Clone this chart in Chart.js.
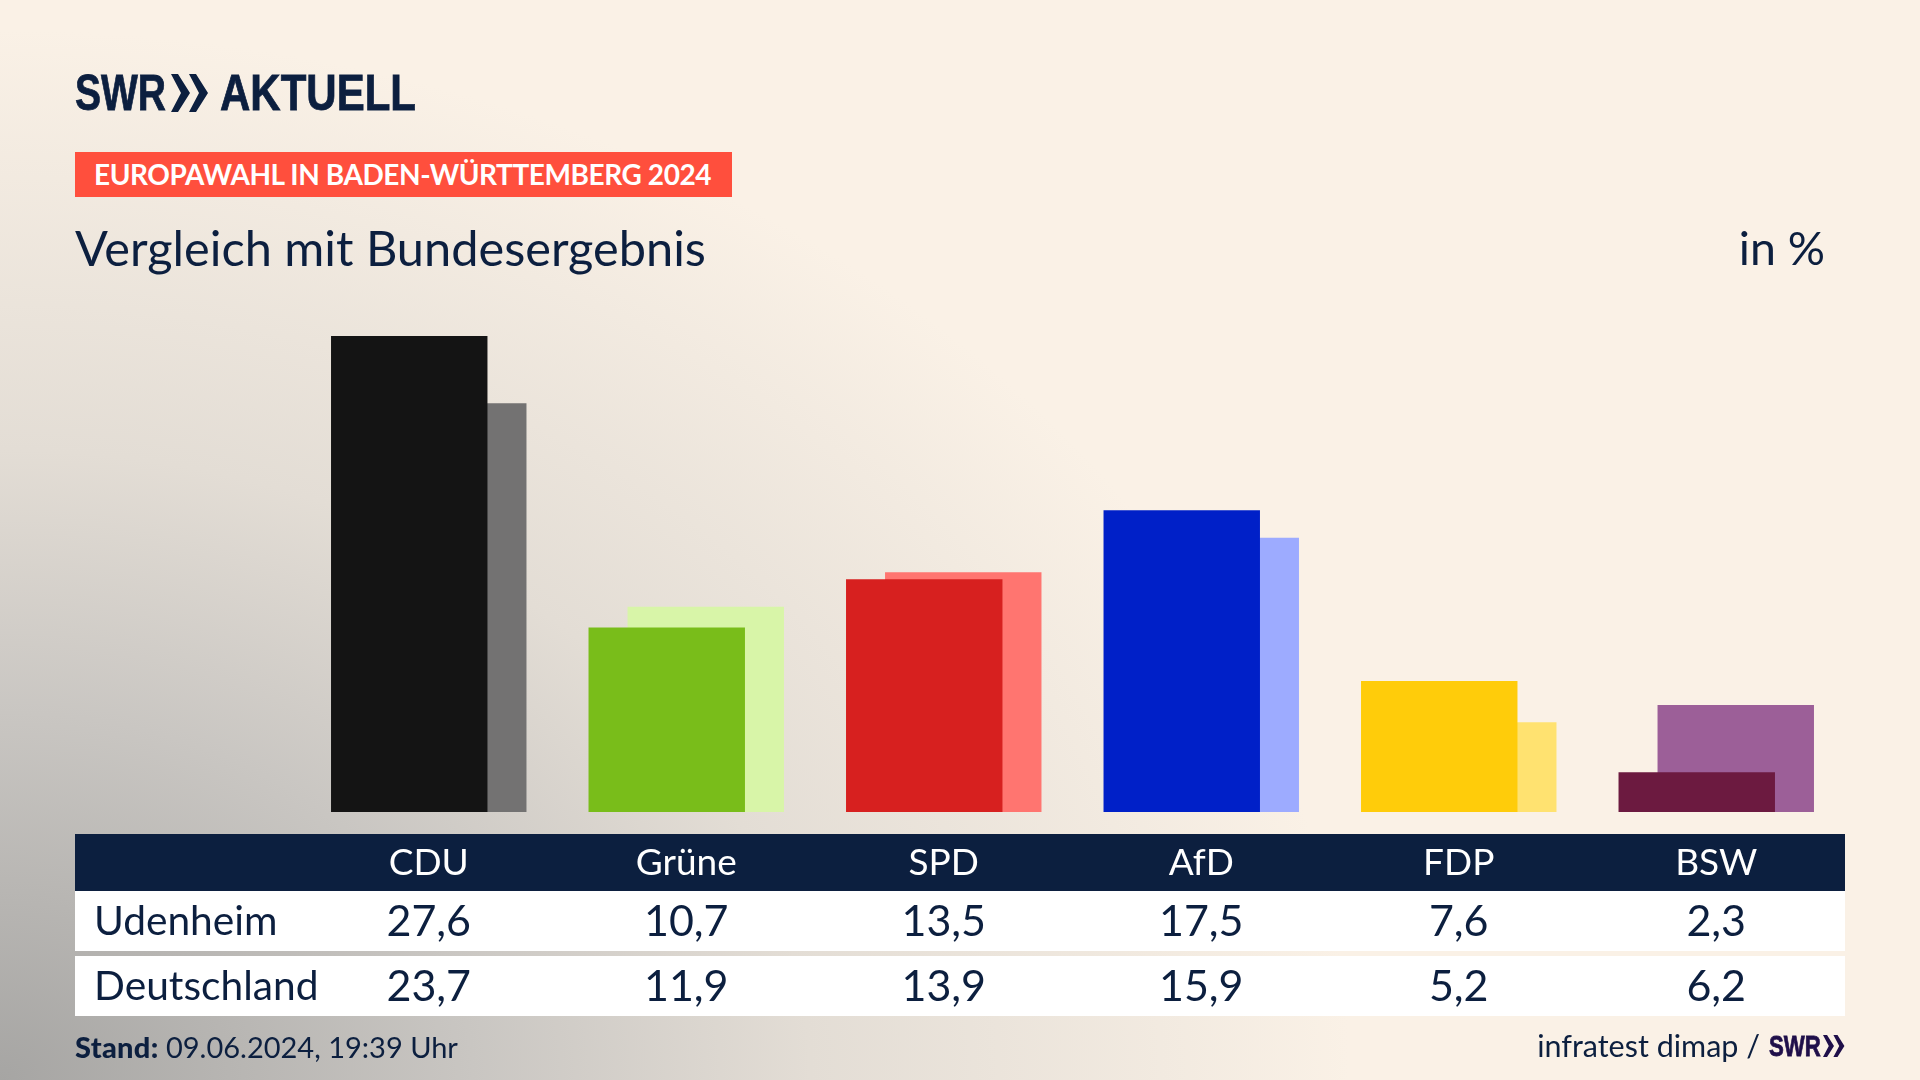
<!DOCTYPE html>
<html lang="de">
<head>
<meta charset="utf-8">
<title>Vergleich mit Bundesergebnis</title>
<script src="https://cdn.jsdelivr.net/npm/chart.js@4"></script>
<style>
  html, body { margin: 0; width: 1920px; height: 1080px; overflow: hidden; }
  body {
    position: relative;
    color: #0c1f3f;
    font-family: Lato, sans-serif;
    background: radial-gradient(ellipse 1350px 1050px at 0 100%, #a6a5a3 0%, #c9c6c2 35%, #e3ddd5 60%, #faf1e6 100%), #faf1e6;
  }
  canvas { position: absolute; left: 0; top: 0; }
  .abs { position: absolute; white-space: nowrap; }
  .narrow { display: inline-block; transform-origin: left center; -webkit-text-stroke: .8px currentColor; }
  .logo { left: 75px; top: 66px; font: 700 50px/54px "Liberation Sans", sans-serif; }
  .logo .swr { position: absolute; left: 0; top: 0; transform: scaleX(.78); }
  .logo .word { position: absolute; left: 145px; top: 0; transform: scaleX(.84); }
  .logo svg { position: absolute; left: 96px; top: 8px; }
  .badge { left: 75px; top: 152px; width: 657px; height: 45px; background: #ff4f3d; color: #fff; font: 700 28px/45px Lato, sans-serif; letter-spacing: -.42px; padding-left: 19px; box-sizing: border-box; }
  .title { left: 75px; top: 217px; font-size: 48.7px; line-height: 60px; }
  .unit { right: 95px; top: 217px; font-size: 46.5px; line-height: 60px; }
  table { position: absolute; left: 75px; top: 834px; width: 1770px; border-collapse: separate; border-spacing: 0; table-layout: fixed; }
  th, td { padding: 0; text-align: center; font-weight: 400; }
  th.label, td.label { width: 225px; }
  td.label { text-align: left; padding-left: 19px; box-sizing: border-box; font-size: 40.7px; }
  thead th { background: #0c1f3f; color: #fff; height: 57px; font-size: 37px; line-height: 54px; vertical-align: top; }
  tbody td { background: #fff; height: 60px; font-size: 43px; line-height: 58px; vertical-align: top; }
  tbody tr.spacer td { background: transparent; height: 5px; line-height: 5px; font-size: 1px; }
  .stand { left: 75px; top: 1029px; font-size: 29px; line-height: 36px; }
  .stand b { font-weight: 900; letter-spacing: .3px; }
  .source { right: 160px; top: 1027px; font-size: 30.5px; line-height: 36px; }
  .mark { left: 1769px; top: 1029px; font: 700 30px/34px "Liberation Sans", sans-serif; color: #1f0f4a; }
  .mark .swr { transform: scaleX(.74); }
  .mark svg { position: absolute; left: 54px; top: 6px; }
</style>
</head>
<body>
<canvas id="chart" width="1920" height="1080"></canvas>

<div class="abs logo"><span class="narrow swr">SWR</span><svg width="38" height="38" viewBox="0 0 38 38"><path d="M0 0 L7 0 L19 19 L7 38 L0 38 L10 19 Z M18 0 L25 0 L37 19 L25 38 L18 38 L28 19 Z" fill="#0c1f3f"/></svg><span class="narrow word">AKTUELL</span></div>
<div class="abs badge">EUROPAWAHL IN BADEN-WÜRTTEMBERG 2024</div>
<div class="abs title">Vergleich mit Bundesergebnis</div>
<div class="abs unit">in %</div>

<table id="table"></table>

<div class="abs stand"><b>Stand:</b> 09.06.2024, 19:39 Uhr</div>
<div class="abs source">infratest dimap /</div>
<div class="abs mark"><span class="narrow swr">SWR</span><svg width="22" height="22" viewBox="0 0 38 38"><path d="M0 0 L7 0 L19 19 L7 38 L0 38 L10 19 Z M18 0 L25 0 L37 19 L25 38 L18 38 L28 19 Z" fill="#1f0f4a"/></svg></div>

<script>
// data
const parties = ['CDU', 'Grüne', 'SPD', 'AfD', 'FDP', 'BSW'];
const udenheim = [27.6, 10.7, 13.5, 17.5, 7.6, 2.3];
const deutschland = [23.7, 11.9, 13.9, 15.9, 5.2, 6.2];
const rowNames = ['Udenheim', 'Deutschland'];

const frontColors = ['#141414', '#79bd1a', '#d7201f', '#0020c8', '#ffcc0a', '#6c1a40'];
const backColors = ['#737272', '#d8f5a8', '#ff7570', '#9dabff', '#ffe270', '#9c5f98'];

const fmt = v => v.toFixed(1).replace('.', ',');

// table under the bars
const rows = [udenheim, deutschland];
document.getElementById('table').innerHTML =
  '<thead><tr><th class="label"></th>' + parties.map(p => `<th>${p}</th>`).join('') + '</tr></thead><tbody>' +
  rows.map((r, i) =>
    (i ? '<tr class="spacer"><td colspan="7"></td></tr>' : '') +
    `<tr><td class="label">${rowNames[i]}</td>` + r.map(v => `<td>${fmt(v)}</td>`).join('') + '</tr>'
  ).join('') + '</tbody>';

// category slot 257.5px: the two bars sit 39px apart and overlap (barPercentage > 1)
const barOpts = { categoryPercentage: 0.303, barPercentage: 4.01, borderWidth: 0 };

new Chart(document.getElementById('chart'), {
  type: 'bar',
  data: {
    labels: parties,
    datasets: [
      { label: rowNames[0], data: udenheim, backgroundColor: frontColors, ...barOpts },
      { label: rowNames[1], data: deutschland, backgroundColor: backColors, ...barOpts }
    ]
  },
  options: {
    responsive: false,
    animation: false,
    layout: { padding: { left: 300, right: 75, top: 294.5, bottom: 268 } },
    plugins: { legend: { display: false }, tooltip: { enabled: false } },
    scales: {
      x: { display: false },
      y: { display: false, min: 0, max: 30 }
    }
  }
});
</script>
</body>
</html>
